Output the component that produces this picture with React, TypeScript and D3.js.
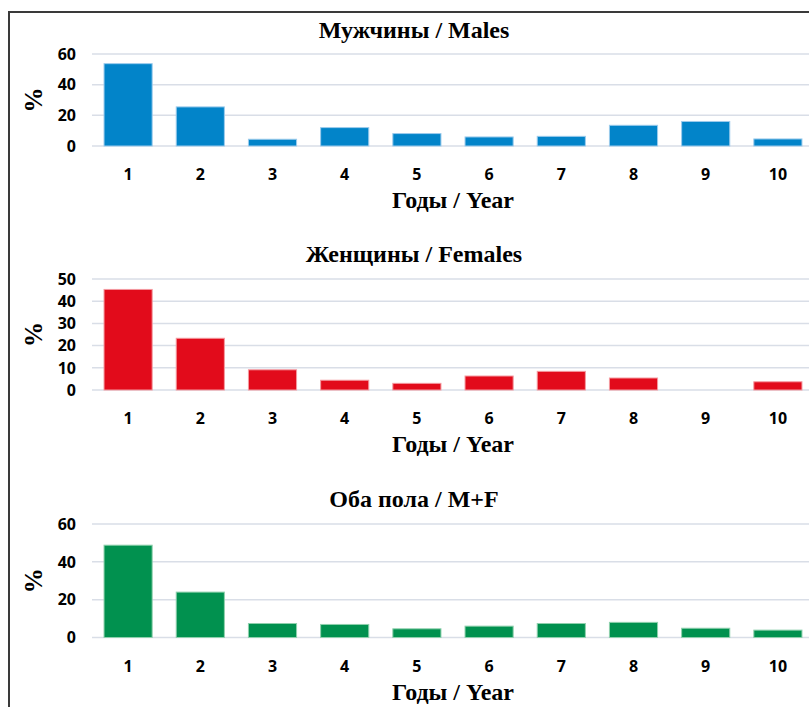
import * as d3 from "d3";

const years = ["1", "2", "3", "4", "5", "6", "7", "8", "9", "10"];
const males = [53.7, 25.5, 4.4, 12, 8.1, 5.9, 6.3, 13.5, 16, 4.6];
const females = [45.3, 23.3, 9.1, 4.4, 3.0, 6.3, 8.4, 5.4, 0, 3.7];
const both = [48.8, 24.0, 7.4, 6.9, 4.6, 6.0, 7.4, 8.0, 4.9, 3.9];
const titles = ["Мужчины / Males", "Женщины / Females", "Оба пола / M+F"];
const yMaxes = [60, 50, 60];
const yStepTicks = [20, 10, 20];
const xTitle = "Годы / Year";
const yTitle = "%";

const W = 809;
const H = 707;
const serif = "'Liberation Serif', 'Times New Roman', serif";
const sans = "'Open Sans', 'Liberation Sans', sans-serif";

function Panel(props) {
  const { title, values, yMax, step, color, stroke, titleY, top, bottom } = props;
  const x = d3.scaleBand().domain(years).range([92, 814]).paddingInner(1 / 3).paddingOuter(1 / 6);
  const y = d3.scaleLinear().domain([0, yMax]).range([bottom, top]);
  const ticks = d3.range(0, yMax + 1, step);
  return (
    <g>
      <text x={414} y={titleY} textAnchor="middle" fontFamily={serif} fontWeight="bold" fontSize={24}>
        {title}
      </text>
      {ticks.map(t => (
        <g key={t}>
          <line x1={92} x2={820} y1={y(t)} y2={y(t)} stroke="#d9dee7" strokeWidth={1.5} />
          <text x={76} y={y(t)} dy="0.36em" textAnchor="end" fontFamily={sans} fontWeight="bold" fontSize={16}>
            {t}
          </text>
        </g>
      ))}
      {values.map((v, i) => (
        v > 0 ? <rect key={i} x={x(years[i])} y={y(v)} width={x.bandwidth()} height={y(0) - y(v)}
          fill={color} stroke={stroke} strokeWidth={1} /> : null
      ))}
      {years.map(yr => (
        <text key={yr} x={x(yr) + x.bandwidth() / 2} y={bottom + 34} textAnchor="middle"
          fontFamily={sans} fontWeight="bold" fontSize={16}>
          {yr}
        </text>
      ))}
      <text x={453} y={bottom + 62} textAnchor="middle" fontFamily={serif} fontWeight="bold" fontSize={24}>
        {xTitle}
      </text>
      <text transform={`translate(42, ${(top + bottom) / 2}) rotate(-90)`} textAnchor="middle"
        fontFamily={serif} fontWeight="bold" fontSize={25}>
        {yTitle}
      </text>
    </g>
  );
}

export default function App() {
  const series = [males, females, both];
  const colors = ["#0284c9", "#e20b1b", "#01914f"];
  const strokes = ["#9ccbec", "#f49aa0", "#8fd0ad"];
  const layout = [
    { titleY: 37.5, top: 54, bottom: 146 },
    { titleY: 262, top: 279, bottom: 390 },
    { titleY: 507, top: 524, bottom: 637.5 },
  ];
  return (
    <svg width={W} height={H} style={{ position: "absolute", left: 0, top: 0, background: "#fff" }}>
      <rect x={9} y={12} width={W + 20} height={H + 20} fill="#fff" stroke="#3a3a3a" strokeWidth={2} />
      {series.map((s, i) => (
        <Panel key={i} title={titles[i]} values={s} yMax={yMaxes[i]} step={yStepTicks[i]}
          color={colors[i]} stroke={strokes[i]} {...layout[i]} />
      ))}
    </svg>
  );
}
